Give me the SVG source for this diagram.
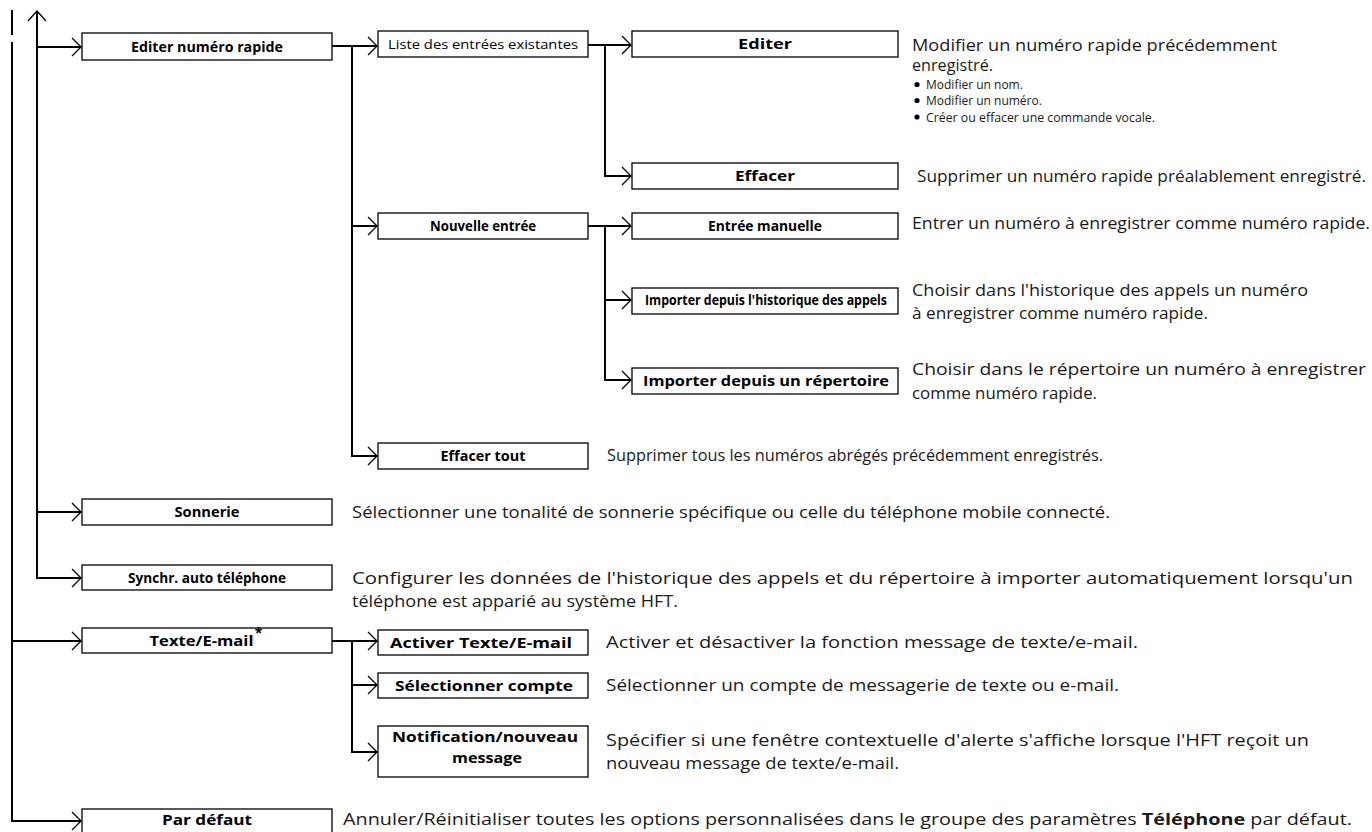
<svg xmlns="http://www.w3.org/2000/svg" width="1372" height="832" viewBox="0 0 1372 832">
<style>
.box{fill:#fff;stroke:#000;stroke-width:1.3}
.lbl{font-family:"Open Sans","Liberation Sans",sans-serif;font-weight:700;font-size:14px;text-anchor:middle;fill:#000}
.reg{font-family:"Open Sans","Liberation Sans",sans-serif;font-weight:400;font-size:13px;text-anchor:middle;fill:#000}
.desc{font-family:"Open Sans","Liberation Sans",sans-serif;font-weight:400;font-size:15.5px;fill:#1a1a1a}
.small{font-family:"Open Sans","Liberation Sans",sans-serif;font-weight:400;font-size:12px;fill:#1a1a1a}
.conn{fill:none;stroke:#000;stroke-width:2}
.head{fill:none;stroke:#000;stroke-width:1.3}
</style>
<defs>
<marker id="arr" markerUnits="userSpaceOnUse" markerWidth="12" markerHeight="22" refX="10" refY="10" orient="auto">
<path d="M1,1 L10,10 L1,19" class="head"/>
</marker>
</defs>
<rect width="1372" height="832" fill="#fff"/>
<g id="connectors">
<path class="conn" d="M12,10 V35"/>
<path class="conn" d="M12,42 V821 H81" marker-end="url(#arr)"/>
<path class="conn" d="M12,641 H81" marker-end="url(#arr)"/>
<path class="conn" d="M37,11 V578 H81" marker-end="url(#arr)"/>
<path class="head" d="M28,21 L37,11 L46,21"/>
<path class="conn" d="M37,47 H81" marker-end="url(#arr)"/>
<path class="conn" d="M37,512 H81" marker-end="url(#arr)"/>
<path class="conn" d="M332,46 H377" marker-end="url(#arr)"/>
<path class="conn" d="M352,46 V456 H377" marker-end="url(#arr)"/>
<path class="conn" d="M352,226 H377" marker-end="url(#arr)"/>
<path class="conn" d="M588,45 H631" marker-end="url(#arr)"/>
<path class="conn" d="M605,45 V176 H631" marker-end="url(#arr)"/>
<path class="conn" d="M588,226 H631" marker-end="url(#arr)"/>
<path class="conn" d="M605,226 V380 H631" marker-end="url(#arr)"/>
<path class="conn" d="M605,300 H631" marker-end="url(#arr)"/>
<path class="conn" d="M332,641 H377" marker-end="url(#arr)"/>
<path class="conn" d="M352,641 V752 H377" marker-end="url(#arr)"/>
<path class="conn" d="M352,685 H377" marker-end="url(#arr)"/>
</g>
<g id="n-editer-numero">
<rect class="box" x="82" y="33" width="250" height="27"/>
<text class="lbl" x="207" y="51.5" textLength="152" lengthAdjust="spacingAndGlyphs">Editer numéro rapide</text>
</g>
<g id="n-liste">
<rect class="box" x="378" y="31" width="210" height="26"/>
<text class="reg" x="483" y="48.5" textLength="190" lengthAdjust="spacingAndGlyphs">Liste des entrées existantes</text>
</g>
<g id="n-editer">
<rect class="box" x="632" y="31" width="266" height="26"/>
<text class="lbl" x="765" y="49" textLength="54" lengthAdjust="spacingAndGlyphs">Editer</text>
<text class="desc" x="912" y="50.5" textLength="365" lengthAdjust="spacingAndGlyphs">Modifier un numéro rapide précédemment</text>
<text class="desc" x="912" y="71" textLength="81" lengthAdjust="spacingAndGlyphs">enregistré.</text>
<circle cx="917" cy="84.5" r="2.6" fill="#000"/>
<text class="small" x="926" y="89">Modifier un nom.</text>
<circle cx="917" cy="100.5" r="2.6" fill="#000"/>
<text class="small" x="926" y="105">Modifier un numéro.</text>
<circle cx="917" cy="117" r="2.6" fill="#000"/>
<text class="small" x="926" y="121.5" textLength="229" lengthAdjust="spacingAndGlyphs">Créer ou effacer une commande vocale.</text>
</g>
<g id="n-effacer">
<rect class="box" x="632" y="163" width="266" height="26"/>
<text class="lbl" x="765" y="181" textLength="60" lengthAdjust="spacingAndGlyphs">Effacer</text>
<text class="desc" x="917" y="182" textLength="449" lengthAdjust="spacingAndGlyphs">Supprimer un numéro rapide préalablement enregistré.</text>
</g>
<g id="n-nouvelle">
<rect class="box" x="378" y="213" width="210" height="26"/>
<text class="lbl" x="483" y="231" textLength="106" lengthAdjust="spacingAndGlyphs">Nouvelle entrée</text>
</g>
<g id="n-entree-manuelle">
<rect class="box" x="632" y="213" width="266" height="26"/>
<text class="lbl" x="765" y="231" textLength="114" lengthAdjust="spacingAndGlyphs">Entrée manuelle</text>
<text class="desc" x="912" y="229" textLength="458" lengthAdjust="spacingAndGlyphs">Entrer un numéro à enregistrer comme numéro rapide.</text>
</g>
<g id="n-historique">
<rect class="box" x="632" y="288" width="266" height="26"/>
<text class="lbl" x="766" y="305" font-size="13" textLength="242" lengthAdjust="spacingAndGlyphs">Importer depuis l'historique des appels</text>
<text class="desc" x="912" y="296" textLength="396" lengthAdjust="spacingAndGlyphs">Choisir dans l'historique des appels un numéro</text>
<text class="desc" x="912" y="319" textLength="296" lengthAdjust="spacingAndGlyphs">à enregistrer comme numéro rapide.</text>
</g>
<g id="n-repertoire">
<rect class="box" x="632" y="368" width="266" height="26"/>
<text class="lbl" x="766" y="386" textLength="246" lengthAdjust="spacingAndGlyphs">Importer depuis un répertoire</text>
<text class="desc" x="912" y="375" textLength="454" lengthAdjust="spacingAndGlyphs">Choisir dans le répertoire un numéro à enregistrer</text>
<text class="desc" x="912" y="398.5" textLength="185" lengthAdjust="spacingAndGlyphs">comme numéro rapide.</text>
</g>
<g id="n-effacer-tout">
<rect class="box" x="378" y="443" width="210" height="26"/>
<text class="lbl" x="483" y="461" textLength="85" lengthAdjust="spacingAndGlyphs">Effacer tout</text>
<text class="desc" x="607" y="461" textLength="496" lengthAdjust="spacingAndGlyphs">Supprimer tous les numéros abrégés précédemment enregistrés.</text>
</g>
<g id="n-sonnerie">
<rect class="box" x="82" y="499" width="250" height="26"/>
<text class="lbl" x="207" y="517" textLength="65" lengthAdjust="spacingAndGlyphs">Sonnerie</text>
<text class="desc" x="352" y="517.5" textLength="758" lengthAdjust="spacingAndGlyphs">Sélectionner une tonalité de sonnerie spécifique ou celle du téléphone mobile connecté.</text>
</g>
<g id="n-synchr">
<rect class="box" x="82" y="565" width="250" height="25"/>
<text class="lbl" x="207" y="582.5" textLength="158" lengthAdjust="spacingAndGlyphs">Synchr. auto téléphone</text>
<text class="desc" x="352" y="584" textLength="1001" lengthAdjust="spacingAndGlyphs">Configurer les données de l'historique des appels et du répertoire à importer automatiquement lorsqu'un</text>
<text class="desc" x="352" y="607" textLength="326" lengthAdjust="spacingAndGlyphs">téléphone est apparié au système HFT.</text>
</g>
<g id="n-texte">
<rect class="box" x="82" y="628" width="250" height="25"/>
<text class="lbl" x="201.5" y="645.5" textLength="104" lengthAdjust="spacingAndGlyphs">Texte/E-mail</text>
<text class="lbl" x="258.5" y="638" font-size="7" font-weight="400">*</text>
</g>
<g id="n-activer">
<rect class="box" x="378" y="630" width="210" height="25"/>
<text class="lbl" x="481" y="647.5" textLength="182" lengthAdjust="spacingAndGlyphs">Activer Texte/E-mail</text>
<text class="desc" x="606" y="647.5" textLength="532" lengthAdjust="spacingAndGlyphs">Activer et désactiver la fonction message de texte/e-mail.</text>
</g>
<g id="n-selectionner">
<rect class="box" x="378" y="673" width="210" height="25"/>
<text class="lbl" x="484" y="690.5" textLength="178" lengthAdjust="spacingAndGlyphs">Sélectionner compte</text>
<text class="desc" x="606" y="690.5" textLength="513" lengthAdjust="spacingAndGlyphs">Sélectionner un compte de messagerie de texte ou e-mail.</text>
</g>
<g id="n-notification">
<rect class="box" x="378" y="726" width="210" height="51"/>
<text class="lbl" x="485" y="742" textLength="186" lengthAdjust="spacingAndGlyphs">Notification/nouveau</text>
<text class="lbl" x="487" y="763" textLength="70" lengthAdjust="spacingAndGlyphs">message</text>
<text class="desc" x="606" y="745.5" textLength="703" lengthAdjust="spacingAndGlyphs">Spécifier si une fenêtre contextuelle d'alerte s'affiche lorsque l'HFT reçoit un</text>
<text class="desc" x="606" y="768.5" textLength="293" lengthAdjust="spacingAndGlyphs">nouveau message de texte/e-mail.</text>
</g>
<g id="n-par-defaut">
<rect class="box" x="82" y="809" width="250" height="26"/>
<text class="lbl" x="207" y="825" textLength="90" lengthAdjust="spacingAndGlyphs">Par défaut</text>
<text class="desc" x="343" y="824.5" textLength="1009" lengthAdjust="spacingAndGlyphs">Annuler/Réinitialiser toutes les options personnalisées dans le groupe des paramètres <tspan font-weight="700">Téléphone</tspan> par défaut.</text>
</g>
</svg>
